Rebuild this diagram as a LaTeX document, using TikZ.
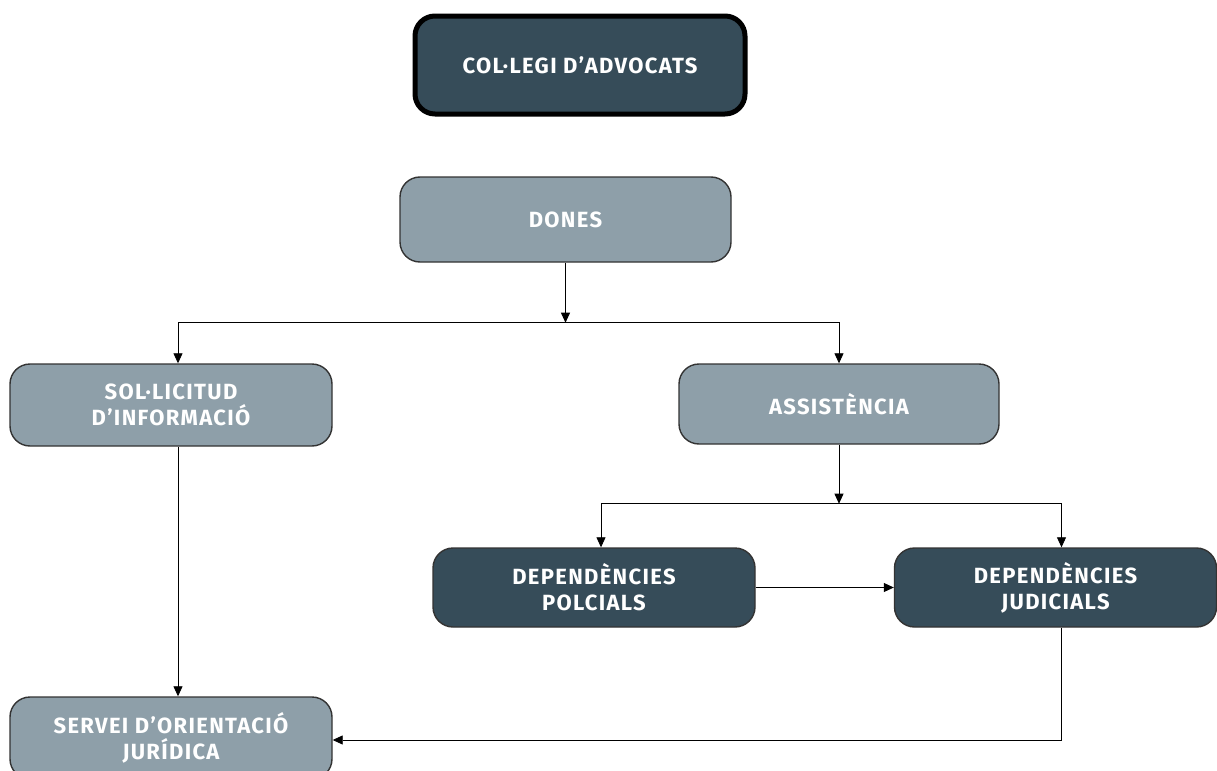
\documentclass[tikz,border=0pt]{standalone}
\usepackage{fontspec}
\setmainfont{Fira Sans}[LetterSpace=6]
\usetikzlibrary{positioning, arrows.meta}
\definecolor{slate}{HTML}{364C59}
\definecolor{steel}{HTML}{8E9FA9}
\tikzset{
  ->, % directed connectors
  >={Triangle[length=5pt,width=4.5pt]}, % filled arrow heads
  line width=0.6pt,
  box/.style={draw=black!80, line width=0.7pt, rounded corners=10pt, text=white,
    align=center, minimum width=161pt, minimum height=41pt,
    font=\bfseries\fontsize{11}{13}\selectfont}, % common look of every box
  lightbox/.style={box, fill=steel},
  darkbox/.style={box, fill=slate},
}

\begin{document}
\begin{tikzpicture}[on grid]
  \useasboundingbox (0,0) rectangle (608.5pt,-385.5pt);

  \node[darkbox, draw=black, line width=2.5pt, minimum width=165pt, minimum height=49pt]
    (college) at (290pt,-32.5pt) {COL·LEGI D’ADVOCATS};
  \node[lightbox, minimum width=165.5pt, minimum height=42.5pt,
    below left=77.25pt and 7.25pt of college] (women) {DONES};
  \node[lightbox, below left=92.75pt and 197.25pt of women] (request) {SOL·LICITUD\\D’INFORMACIÓ};
  \node[lightbox, minimum width=160pt, minimum height=40pt,
    below right=92.25pt and 136.75pt of women] (assist) {ASSISTÈNCIA};
  \node[darkbox, minimum height=39.5pt, below left=91.75pt and 122.5pt of assist] (police) {DEPENDÈNCIES\\POLCIALS};
  \node[darkbox, minimum height=39.5pt, right=230.75pt of police] (court) {DEPENDÈNCIES\\JUDICIALS};
  \node[lightbox, below=166.5pt of request] (advice) {SERVEI D’ORIENTACIÓ\\JURÍDICA};

  % forks
  \coordinate[below=30pt of women.south] (fork1);
  \coordinate[below=29.5pt of assist.south] (fork2);

  \draw (women.south) -- (fork1);
  \draw (fork1) -| ([xshift=3.5pt]request.north);
  \draw (fork1) -| (assist.north);

  \draw (assist.south) -- (fork2);
  \draw (fork2) -| ([xshift=3.5pt]police.north);
  \draw (fork2) -| ([xshift=3pt]court.north);

  \draw (police.east) -- (court.west);
  \draw ([xshift=3.5pt]request.south) -- ([xshift=3.5pt]advice.north);
  \draw ([xshift=3pt]court.south) |- ([yshift=-1pt]advice.east);
\end{tikzpicture}
\end{document}
